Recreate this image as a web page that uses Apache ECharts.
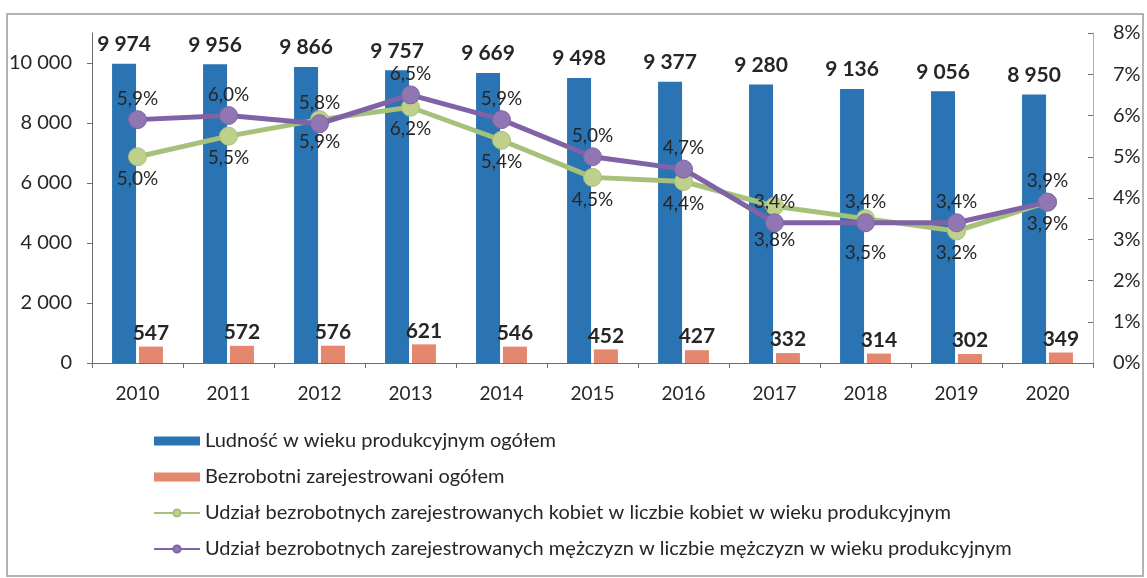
<!DOCTYPE html>
<html>
<head>
    <meta charset="utf-8"/>
    <title>Ludność w wieku produkcyjnym i bezrobotni</title>
    <script src="https://cdn.jsdelivr.net/npm/echarts@6/dist/echarts.min.js"></script>
    <style>
        html, body { margin: 0; padding: 0; background: #fff; }
        #chart { width: 1147px; height: 578px; }
    </style>
</head>
<body>
<div id="chart"></div>
<script>
    // dane
    var years = ['2010', '2011', '2012', '2013', '2014', '2015', '2016', '2017', '2018', '2019', '2020'];
    var ludnosc = [9974, 9956, 9866, 9757, 9669, 9498, 9377, 9280, 9136, 9056, 8950];
    var bezrobotni = [547, 572, 576, 621, 546, 452, 427, 332, 314, 302, 349];
    var udzialKobiet = [5.0, 5.5, 5.9, 6.2, 5.4, 4.5, 4.4, 3.8, 3.5, 3.2, 3.9];
    var udzialMezczyzn = [5.9, 6.0, 5.8, 6.5, 5.9, 5.0, 4.7, 3.4, 3.4, 3.4, 3.9];

    var names = [
        'Ludność w wieku produkcyjnym ogółem',
        'Bezrobotni zarejestrowani ogółem',
        'Udział bezrobotnych zarejestrowanych kobiet w liczbie kobiet w wieku produkcyjnym',
        'Udział bezrobotnych zarejestrowanych mężczyzn w liczbie mężczyzn w wieku produkcyjnym'
    ];

    var font = 'Lato, "Open Sans", sans-serif';
    var textColor = '#262626';

    // liczby z odstępem tysięcy: 9 974
    var spaced = function (v) {
        return String(v).replace(/\B(?=(\d{3})+(?!\d))/g, ' ');
    };
    var pct = function (v) {
        return v.toFixed(1).replace('.', ',') + '%';
    };

    var chart = echarts.init(document.getElementById('chart'));
    var option = {
        backgroundColor: '#fff',
        textStyle: { fontFamily: font, color: textColor },
        animation: false,
        graphic: [{
            type: 'rect',
            shape: { x: 7, y: 14, width: 1136, height: 562 },
            style: { fill: 'none', stroke: '#9a9a9a', lineWidth: 1.5 },
            silent: true
        }],
        grid: { left: 92, right: 54, top: 33, bottom: 215 },
        legend: {
            orient: 'vertical',
            left: 148,
            top: 426,
            itemGap: 16,
            itemWidth: 46,
            itemHeight: 9,
            textStyle: { fontFamily: font, fontSize: 20, color: textColor },
            data: [
                { name: names[0], icon: 'rect' },
                { name: names[1], icon: 'rect' },
                names[2],
                names[3]
            ]
        },
        xAxis: {
            type: 'category',
            data: years,
            axisLine: { lineStyle: { color: '#6e6e6e', width: 1 } },
            axisTick: { show: true, length: 5, lineStyle: { color: '#6e6e6e' } },
            axisLabel: { fontFamily: font, fontSize: 19, color: textColor, margin: 21 }
        },
        yAxis: [{
            type: 'value',
            min: 0,
            max: 11000,
            interval: 2000,
            axisLine: { show: true, lineStyle: { color: '#6e6e6e' } },
            axisTick: { show: true, length: 5, lineStyle: { color: '#6e6e6e' } },
            splitLine: { show: false },
            axisLabel: {
                fontFamily: font, fontSize: 20, color: textColor, margin: 20,
                showMaxLabel: false,
                formatter: function (v) { return spaced(v); }
            }
        }, {
            type: 'value',
            min: 0,
            max: 8,
            interval: 1,
            position: 'right',
            axisLine: { show: true, lineStyle: { color: '#b0b0b0' } },
            axisTick: { show: true, inside: true, length: 5, lineStyle: { color: '#6e6e6e' } },
            splitLine: { show: false },
            axisLabel: {
                fontFamily: font, fontSize: 20, color: textColor, margin: 20,
                formatter: '{value}%'
            }
        }],
        series: [{
            name: names[0],
            type: 'bar',
            data: ludnosc,
            barWidth: 24,
            barGap: '12%',
            itemStyle: { color: '#2a74b3' },
            label: {
                show: true, position: 'top', distance: 9,
                fontFamily: font, fontSize: 21, fontWeight: 'bold', color: textColor,
                formatter: function (p) { return spaced(p.value); }
            }
        }, {
            name: names[1],
            type: 'bar',
            data: bezrobotni,
            barWidth: 24,
            itemStyle: { color: '#e5866f' },
            label: {
                show: true, position: 'top', distance: 3,
                fontFamily: font, fontSize: 21, fontWeight: 'bold', color: textColor
            }
        }, {
            name: names[2],
            type: 'line',
            yAxisIndex: 1,
            data: udzialKobiet,
            symbol: 'circle',
            symbolSize: 18,
            lineStyle: { color: '#a6c17a', width: 5 },
            itemStyle: { color: '#bfd08a', borderColor: '#a6c17a', borderWidth: 1 },
            label: {
                show: true, position: 'bottom', distance: 3,
                fontFamily: font, fontSize: 19, color: textColor,
                formatter: function (p) { return pct(p.value); }
            },
            // 2017 i 2018: etykieta pod znacznikiem mężczyzn
            labelLayout: function (params) {
                if (params.dataIndex === 7 || params.dataIndex === 8) {
                    return { dy: 12 };
                }
                return {};
            },
            z: 3
        }, {
            name: names[3],
            type: 'line',
            yAxisIndex: 1,
            data: udzialMezczyzn,
            symbol: 'circle',
            symbolSize: 18,
            lineStyle: { color: '#7f63a6', width: 5 },
            itemStyle: { color: '#9077b4', borderColor: '#7f63a6', borderWidth: 1 },
            label: {
                show: true, position: 'top', distance: 2,
                fontFamily: font, fontSize: 19, color: textColor,
                formatter: function (p) { return pct(p.value); }
            },
            z: 4
        }]
    };
    chart.setOption(option);
</script>
</body>
</html>
